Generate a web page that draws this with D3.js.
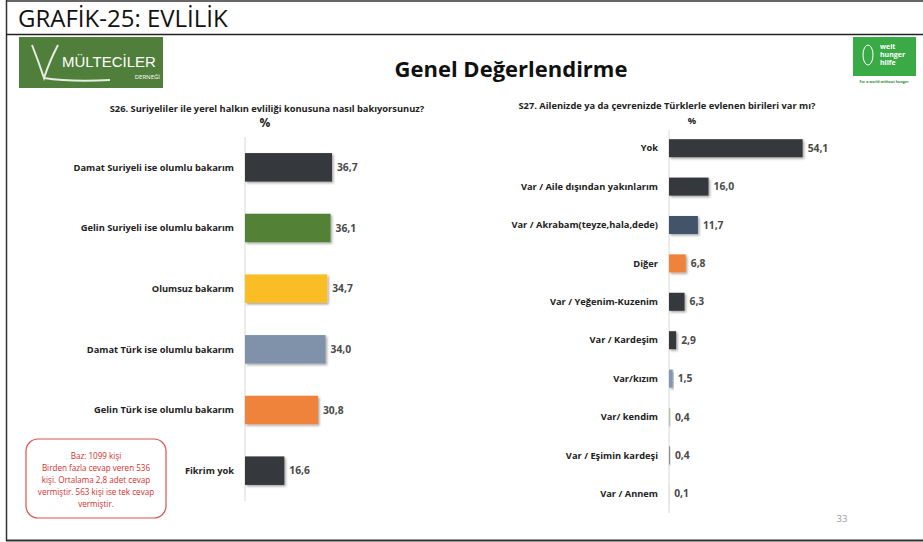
<!DOCTYPE html>
<html><head><meta charset="utf-8">
<script src="https://cdn.jsdelivr.net/npm/d3@7"></script>
<style>
body{margin:0;background:#fff;}
svg{display:block;font-family:"Open Sans","Noto Sans",sans-serif;}
</style></head>
<body>
<svg id="c" width="923" height="542"></svg>
<script>
const leftCats = ["Damat Suriyeli ise olumlu bakarım","Gelin Suriyeli ise olumlu bakarım","Olumsuz bakarım","Damat Türk ise olumlu bakarım","Gelin Türk ise olumlu bakarım","Fikrim yok"];
const leftVals = [36.7,36.1,34.7,34.0,30.8,16.6];
const leftColors = ["#36393c","#538135","#fbbd26","#7f92aa","#f0833a","#36393c"];

const rightCats = ["Yok","Var / Aile dışından yakınlarım","Var / Akrabam(teyze,hala,dede)","Diğer","Var / Yeğenim-Kuzenim","Var / Kardeşim","Var/kızım","Var/ kendim","Var / Eşimin kardeşi","Var / Annem"];
const rightVals = [54.1,16.0,11.7,6.8,6.3,2.9,1.5,0.4,0.4,0.1];
const rightColors = ["#36393c","#36393c","#43536a","#f0833a","#36393c","#36393c","#8497b0","#a9c79a","#8c8c8c","#bfbfbf"];

const noteLines = ["Baz: 1099 kişi","Birden fazla cevap veren 536","kişi. Ortalama 2,8 adet cevap","vermiştir. 563 kişi ise tek cevap","vermiştir."];

const svg = d3.select("#c");
const defs = svg.append("defs");
const f = defs.append("filter").attr("id","sh").attr("x","-20%").attr("y","-20%").attr("width","150%").attr("height","160%");
f.append("feDropShadow").attr("dx",1.5).attr("dy",1.5).attr("stdDeviation",1).attr("flood-color","#000").attr("flood-opacity",0.35);

// frame
svg.append("line").attr("x1",6).attr("x2",923).attr("y1",1).attr("y2",1).attr("stroke","#333").attr("stroke-width",1.5);
svg.append("line").attr("x1",6.5).attr("x2",6.5).attr("y1",0).attr("y2",541).attr("stroke","#333").attr("stroke-width",1.5);
svg.append("line").attr("x1",6).attr("x2",923).attr("y1",34.5).attr("y2",34.5).attr("stroke","#222").attr("stroke-width",1.5);
svg.append("line").attr("x1",6).attr("x2",923).attr("y1",540.5).attr("y2",540.5).attr("stroke","#333").attr("stroke-width",2);

svg.append("text").attr("x",18).attr("y",27).attr("font-size",24).attr("fill","#111")
  .attr("font-family","'Open Sans',sans-serif").text("GRAFİK-25: EVLİLİK");

// left logo
const lg = svg.append("g");
lg.append("rect").attr("x",19).attr("y",37).attr("width",144).attr("height",51).attr("fill","#4f7f3a");
lg.append("text").attr("x",62).attr("y",67).attr("font-size",15).attr("fill","#fff").attr("font-family","'Liberation Sans Narrow','Liberation Sans',sans-serif").text("MÜLTECİLER");
lg.append("text").attr("x",160).attr("y",79).attr("text-anchor","end").attr("font-size",6).attr("fill","#fff").text("DERNEĞİ");
lg.append("path").attr("d","M32 45 Q38 60 44 78 Q50 60 58 45 M44 78 Q70 82 110 80").attr("stroke","#fff").attr("stroke-width",2).attr("fill","none").attr("opacity",0.85);
// right logo
const rg = svg.append("g");
rg.append("rect").attr("x",853).attr("y",37).attr("width",63).attr("height",39).attr("fill","#3aaa47");
rg.append("text").attr("x",880).attr("y",49).attr("font-size",7).attr("fill","#fff").attr("font-weight","bold").text("welt");
rg.append("text").attr("x",880).attr("y",57).attr("font-size",7).attr("fill","#fff").attr("font-weight","bold").text("hunger");
rg.append("text").attr("x",880).attr("y",65).attr("font-size",7).attr("fill","#fff").attr("font-weight","bold").text("hilfe");
rg.append("ellipse").attr("cx",868).attr("cy",55).attr("rx",5).attr("ry",10).attr("fill","none").attr("stroke","#fff").attr("stroke-width",1);
rg.append("text").attr("x",884).attr("y",83).attr("text-anchor","middle").attr("font-size",3.6).attr("fill","#2e8b3a").attr("font-weight","bold").text("For a world without hunger");

svg.append("text").attr("x",511).attr("y",77).attr("text-anchor","middle").attr("font-size",22).attr("font-weight","bold").attr("fill","#111").text("Genel Değerlendirme");

function chart(cats, vals, colors, opt){
  const g = svg.append("g");
  const y = d3.scaleBand().domain(cats).range([opt.y0,opt.y1]).paddingInner(opt.pad).paddingOuter(opt.pad/2);
  const x = d3.scaleLinear().domain([0,100]).range([opt.x0,opt.x0+opt.pxPerUnit*100]);
  g.append("text").attr("x",opt.tx).attr("y",opt.ty).attr("text-anchor","middle").attr("font-size",9.3).attr("font-weight","bold").attr("fill","#222").text(opt.title);
  g.append("text").attr("x",opt.px).attr("y",opt.ty+15).attr("text-anchor","middle").attr("font-size",opt.pfs).attr("font-weight","bold").attr("fill","#222").text("%");
  g.append("line").attr("x1",opt.x0).attr("x2",opt.x0).attr("y1",opt.ay0).attr("y2",opt.ay1).attr("stroke","#d9d9d9").attr("stroke-width",1);
  const rows = g.selectAll("g.r").data(cats).enter().append("g");
  rows.append("rect").attr("x",x(0)).attr("y",d=>y(d)).attr("height",y.bandwidth())
    .attr("width",(d,i)=>x(vals[i])-x(0)).attr("fill",(d,i)=>colors[i]).attr("filter","url(#sh)");
  rows.append("text").attr("x",opt.x0-11).attr("y",d=>y(d)+y.bandwidth()/2).attr("dy","0.35em").attr("text-anchor","end")
    .attr("font-size",9.3).attr("font-weight","bold").attr("fill","#222").text(d=>d);
  rows.append("text").attr("x",(d,i)=>x(vals[i])+5).attr("y",d=>y(d)+y.bandwidth()/2).attr("dy","0.35em")
    .attr("font-size",10.3).attr("font-weight","bold").attr("fill","#4a4a4a").text((d,i)=>d3.format(".1f")(vals[i]).replace(".",","));
}

chart(leftCats,leftVals,leftColors,{x0:245,pxPerUnit:2.37,y0:137,y1:501,pad:0.53,tx:267,ty:112,px:265,pfs:12,ay0:137,ay1:501,title:"S26. Suriyeliler ile yerel halkın evliliği konusuna nasıl bakıyorsunuz?"});
chart(rightCats,rightVals,rightColors,{x0:669,pxPerUnit:2.47,y0:129,y1:513,pad:0.53,tx:667,ty:109,px:692,pfs:9.3,ay0:130,ay1:513,title:"S27. Ailenizde ya da çevrenizde Türklerle evlenen birileri var mı?"});

// note box
const nb = svg.append("g");
nb.append("rect").attr("x",26).attr("y",439).attr("width",140).attr("height",79).attr("rx",12).attr("fill","#fff").attr("stroke","#d9534f").attr("stroke-width",1.2);
nb.selectAll("text").data(noteLines).enter().append("text").attr("x",96).attr("y",(d,i)=>459+i*12)
  .attr("text-anchor","middle").attr("font-size",8.1).attr("fill","#d0312d").text(d=>d);

svg.append("text").attr("x",842).attr("y",522).attr("text-anchor","middle").attr("font-size",9.5).attr("fill","#999").text("33");
</script>
</body></html>
